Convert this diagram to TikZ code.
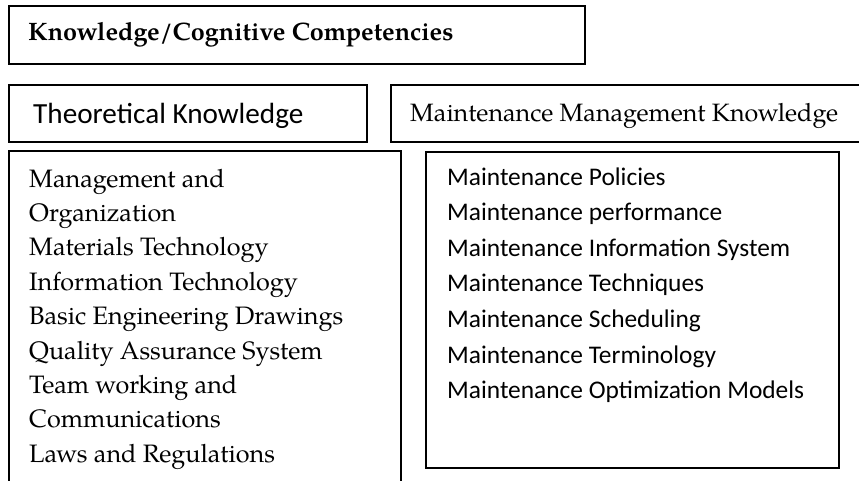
\documentclass[tikz,border=0pt]{standalone}
\usepackage{fontspec}
\newfontfamily\calibri{Carlito}
\newfontfamily\pala{TeX Gyre Pagella}
\tikzset{
  frame/.style={draw, line width=1.5pt, inner sep=0pt, anchor=north west},
  seriftext/.style={font=\pala\fontsize{25.2}{30}\selectfont, inner sep=0pt, anchor=base west},
  sanstext/.style={font=\calibri\fontsize{25.4}{30}\selectfont, inner sep=0pt, anchor=base west},
}
\begin{document}
\begin{tikzpicture}[x=1pt,y=-1pt]
  \useasboundingbox (0,0) rectangle (859,480);
  % frames
  \node[frame, minimum width=576, minimum height=58] (title) at (8,5) {};
  \node[frame, minimum width=358, minimum height=57] (theo) at (8,84) {};
  \node[frame, minimum width=480, minimum height=57] (mmk) at (390,84) {};
  \node[frame, minimum width=392, minimum height=345] (theolist) at (8,150) {};
  \node[frame, minimum width=413, minimum height=316] (mmklist) at (425,151) {};
  % headings
  \node[seriftext, font=\pala\bfseries\fontsize{25.2}{30}\selectfont] (titletext) at (28,40) {Knowledge/Cognitive Competencies};
  \node[sanstext, font=\calibri\fontsize{29.2}{34}\selectfont] (theotext) at (33,123) {Theoretical Knowledge};
  \node[seriftext, font=\pala\fontsize{25.1}{30}\selectfont] (mmktext) at (410,121) {Maintenance Management Knowledge};
  % lists
  \foreach \entry [count=\i] in {Management and, Organization, Materials Technology,
      Information Technology, Basic Engineering Drawings, Quality Assurance System,
      Team working and, Communications, Laws and Regulations} {
    \node[seriftext] (theo\i) at (29, {187+34.4*(\i-1)}) {\entry};
  }
  \foreach \entry [count=\i] in {Maintenance Policies, Maintenance performance,
      Maintenance Information System, Maintenance Techniques, Maintenance Scheduling,
      Maintenance Terminology, Maintenance Optimization Models} {
    \node[sanstext] (mmk\i) at (447, {185+35.6*(\i-1)}) {\entry};
  }
\end{tikzpicture}
\end{document}
